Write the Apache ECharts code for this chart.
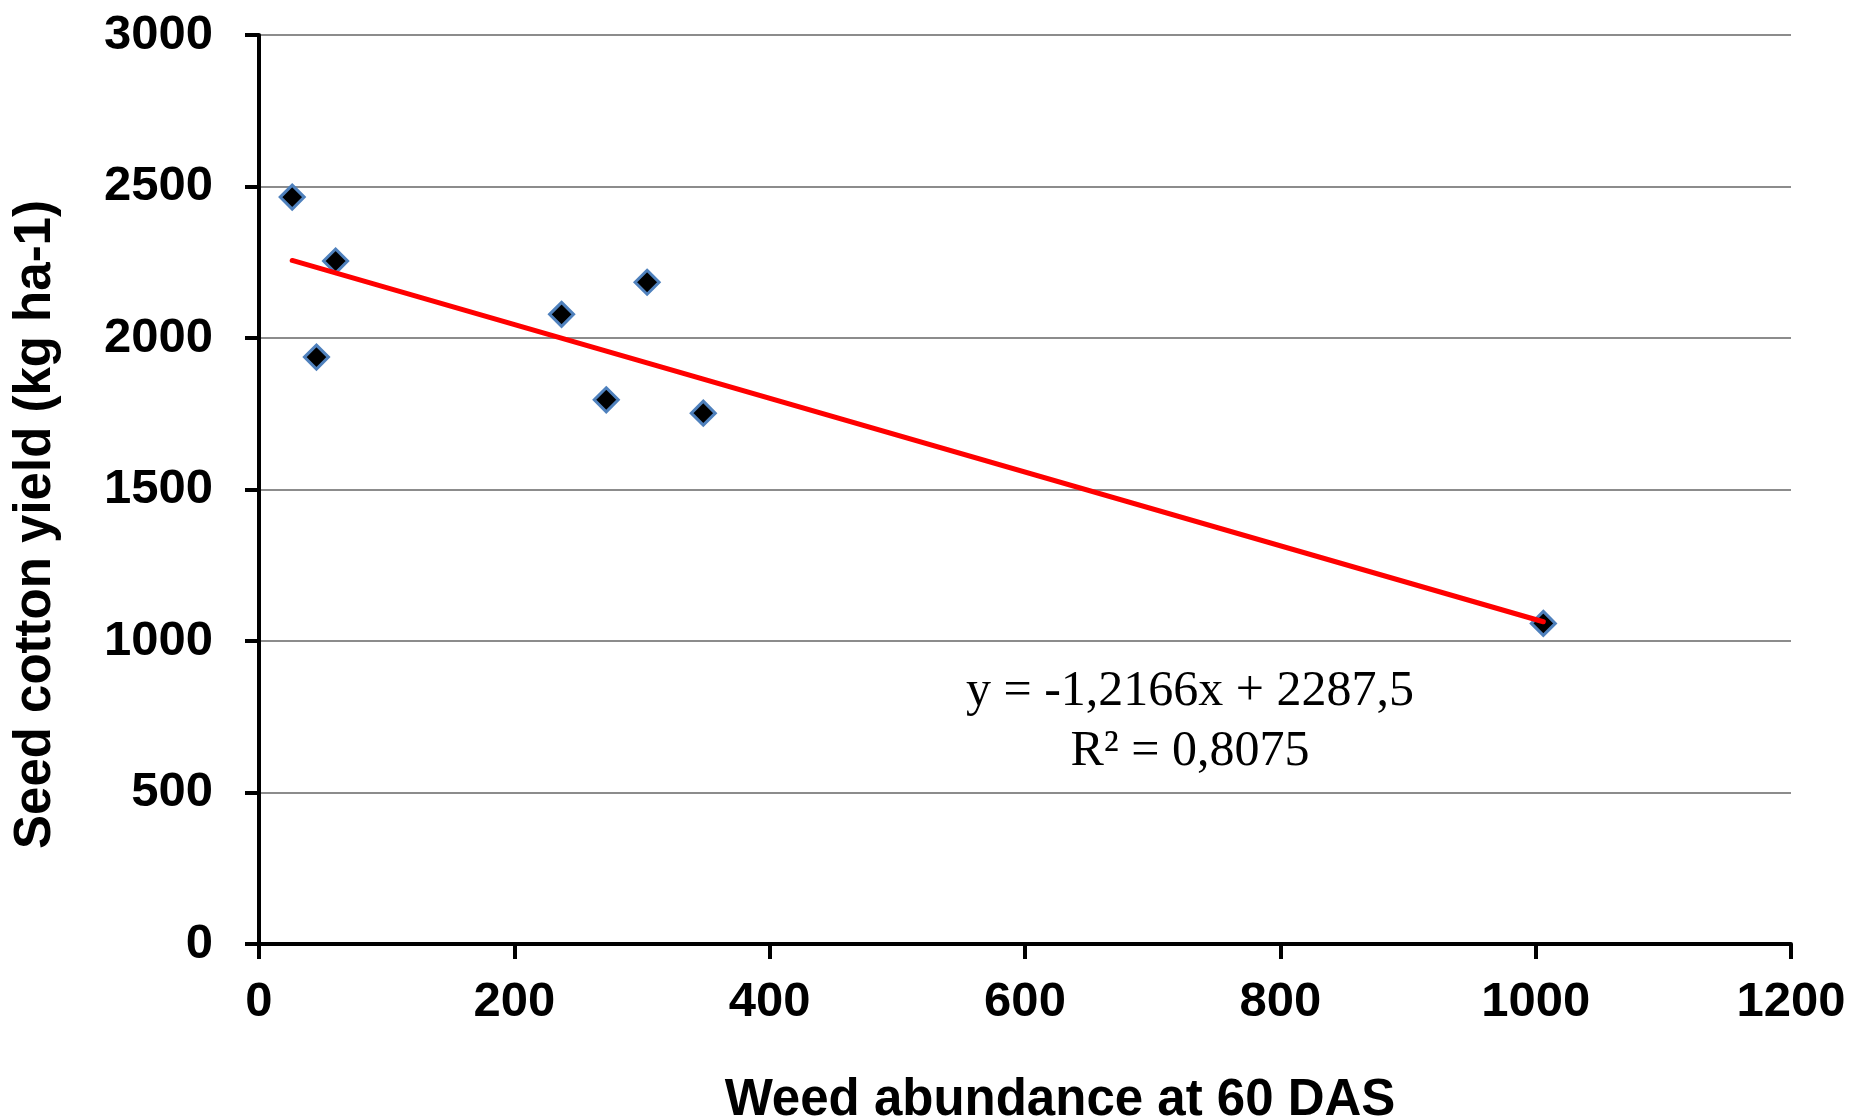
<!DOCTYPE html>
<html>
<head>
<meta charset="utf-8">
<script src="https://cdn.jsdelivr.net/npm/echarts@6/dist/echarts.min.js"></script>
<style>
html, body { margin: 0; padding: 0; background: #fff; }
#chart { width: 1869px; height: 1118px; }
</style>
</head>
<body>
<div id="chart"></div>
<script>
// weed abundance at 60 DAS (x) vs seed cotton yield (y)
const weedAbundance = [26, 45, 60, 237, 272, 304, 348, 1006];
const cottonYield = [2465, 1937, 2254, 2078, 1796, 2184, 1752, 1058];

// linear trendline as printed on the chart
const trendSlope = -1.2166;
const trendIntercept = 2287.5;
const trendText = 'y = -1,2166x + 2287,5\nR² = 0,8075';

const xTicks = [0, 200, 400, 600, 800, 1000, 1200];
const yTicks = [0, 500, 1000, 1500, 2000, 2500, 3000];

const points = weedAbundance.map((x, i) => [x, cottonYield[i]]);
const xMin = Math.min(...weedAbundance);
const xMax = Math.max(...weedAbundance);
const trendLine = [xMin, xMax].map(x => [x, trendSlope * x + trendIntercept]);

const labelFont = { fontFamily: 'Liberation Sans', fontWeight: 'bold', fontSize: 49, color: '#000', formatter: v => String(v) };
const nameFont = { fontFamily: 'Liberation Sans', fontWeight: 'bold', fontSize: 51, color: '#000' };

const option = {
    animation: false,
    backgroundColor: '#fff',
    grid: { left: 259, right: 78, top: 35, bottom: 174, outerBoundsMode: 'none', containLabel: false },
    xAxis: {
        type: 'value',
        min: xTicks[0],
        max: xTicks[xTicks.length - 1],
        interval: xTicks[1] - xTicks[0],
        name: 'Weed abundance at 60 DAS',
        nameLocation: 'middle',
        nameGap: 131,
        nameTextStyle: Object.assign({}, nameFont, { padding: [0, 0, 0, 70] }),
        axisLine: { onZero: false, lineStyle: { color: '#000', width: 4 } },
        axisTick: { length: 15, lineStyle: { color: '#000', width: 4 } },
        axisLabel: Object.assign({ margin: 34 }, labelFont),
        splitLine: { show: false }
    },
    yAxis: {
        type: 'value',
        min: yTicks[0],
        max: yTicks[yTicks.length - 1],
        interval: yTicks[1] - yTicks[0],
        name: 'Seed cotton yield (kg ha-1)',
        nameLocation: 'middle',
        nameRotate: 90,
        nameGap: 198,
        nameTextStyle: Object.assign({}, nameFont, { padding: [0, 70, 0, 0] }),
        axisLine: { show: true, onZero: false, lineStyle: { color: '#000', width: 4 } },
        axisTick: { show: true, length: 14, lineStyle: { color: '#000', width: 4 } },
        axisLabel: Object.assign({ margin: 46 }, labelFont),
        splitLine: { show: true, lineStyle: { color: '#8c8c8c', width: 2 } }
    },
    series: [
        {
            type: 'scatter',
            data: points,
            symbol: 'diamond',
            symbolSize: 24,
            itemStyle: { color: '#000', borderColor: '#4f81bd', borderWidth: 3, opacity: 1 },
            z: 2
        },
        {
            type: 'line',
            data: trendLine,
            showSymbol: false,
            lineStyle: { color: '#ff0000', width: 5, cap: 'round' },
            z: 3
        }
    ],
    graphic: [
        {
            type: 'text',
            x: 1190,
            y: 722,
            style: {
                text: trendText,
                fontFamily: 'Liberation Serif',
                fontSize: 50,
                lineHeight: 60,
                fill: '#000',
                align: 'center',
                verticalAlign: 'middle'
            }
        }
    ]
};

const chart = echarts.init(document.getElementById('chart'));
chart.setOption(option);
</script>
</body>
</html>
